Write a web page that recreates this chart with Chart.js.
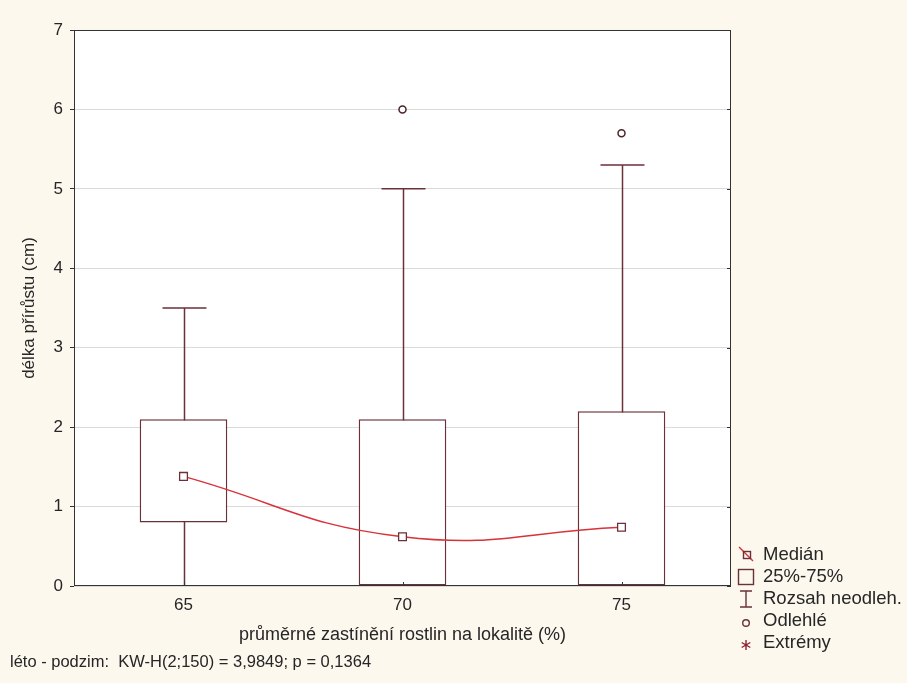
<!DOCTYPE html>
<html>
<head>
<meta charset="utf-8">
<script src="https://cdn.jsdelivr.net/npm/chart.js@4.4.1/dist/chart.umd.min.js"></script>
<style>
    html, body { margin: 0; padding: 0; background: #fcf8ee; }
    #wrap { width: 907px; height: 683px; }
</style>
</head>
<body>
<div id="wrap"><canvas id="chart" width="907" height="683"></canvas></div>
<script>
// values
const categories = ['65', '70', '75'];
const medians = [1.38, 0.62, 0.74];
const q1 = [0.8, 0, 0];
const q3 = [2.1, 2.1, 2.2];
const whiskerLow = [0, 0, 0];
const whiskerHigh = [3.5, 5.0, 5.3];
const outliers = [null, 6.0, 5.7];
const yMin = 0;
const yMax = 7;

const FONT = "'Liberation Sans', Arial, sans-serif";
const DARK = '#6b3138';
const TEXT = '#262626';

const legendItems = ['Medián', '25%-75%', 'Rozsah neodleh.', 'Odlehlé', 'Extrémy'];
const footerText = 'léto - podzim:  KW-H(2;150) = 3,9849; p = 0,1364';

// background, plot area, whiskers, frame, legend and footer
const backgroundPlugin = {
    id: 'background',
    beforeDraw(chart) {
        const ctx = chart.ctx;
        const a = chart.chartArea;
        ctx.save();
        ctx.fillStyle = '#fcf8ee';
        ctx.fillRect(0, 0, chart.width, chart.height);
        ctx.fillStyle = '#ffffff';
        ctx.fillRect(a.left, a.top, a.right - a.left, a.bottom - a.top);
        ctx.restore();
    },
    beforeDatasetsDraw(chart) {
        const ctx = chart.ctx;
        const x = chart.scales.x;
        const y = chart.scales.y;
        ctx.save();
        ctx.strokeStyle = DARK;
        ctx.lineWidth = 1.5;
        categories.forEach((c, i) => {
            const px = Math.round(x.getPixelForValue(i)) + 0.5;
            const top = y.getPixelForValue(whiskerHigh[i]);
            const bot = y.getPixelForValue(whiskerLow[i]);
            ctx.beginPath();
            ctx.moveTo(px, bot);
            ctx.lineTo(px, top);
            ctx.moveTo(px - 22, top);
            ctx.lineTo(px + 22, top);
            ctx.stroke();
        });
        ctx.restore();
    },
    afterDatasetsDraw(chart) {
        const ctx = chart.ctx;
        const a = chart.chartArea;
        const x = chart.scales.x;
        const y = chart.scales.y;
        ctx.save();
        ctx.strokeStyle = '#333';
        ctx.lineWidth = 1;
        ctx.strokeRect(a.left + 0.5, a.top + 0.5, a.right - a.left - 1, a.bottom - a.top - 1);
        ctx.beginPath();
        categories.forEach((c, i) => {
            const px = Math.round(x.getPixelForValue(i)) + 0.5;
            ctx.moveTo(px, a.bottom);
            ctx.lineTo(px, a.bottom - 4);
        });
        for (let v = yMin; v <= yMax; v++) {
            const py = Math.round(y.getPixelForValue(v)) + 0.5;
            ctx.moveTo(a.right, py);
            ctx.lineTo(a.right - 4, py);
        }
        ctx.stroke();
        ctx.restore();
    },
    afterDraw(chart) {
        const ctx = chart.ctx;
        ctx.save();
        ctx.fillStyle = TEXT;
        ctx.textBaseline = 'middle';
        ctx.textAlign = 'left';
        ctx.font = '16.5px ' + FONT;
        ctx.fillText(footerText, 10, 662);

        // legend
        const sx = 746;
        const tx = 763;
        const ys = [555, 577, 599, 621, 643];
        ctx.font = '18.5px ' + FONT;
        legendItems.forEach((t, i) => ctx.fillText(t, tx, ys[i]));

        ctx.lineWidth = 1.4;
        // median
        ctx.beginPath();
        ctx.strokeStyle = '#d8323a';
        ctx.moveTo(sx - 7, ys[0] - 8);
        ctx.lineTo(sx + 7, ys[0] + 6);
        ctx.stroke();
        ctx.strokeStyle = DARK;
        ctx.strokeRect(sx - 2.5, ys[0] - 3.5, 7, 7);
        // box
        ctx.strokeRect(sx - 7.5, ys[1] - 7.5, 15, 15);
        // whisker
        ctx.beginPath();
        ctx.moveTo(sx, ys[2] - 8);
        ctx.lineTo(sx, ys[2] + 8);
        ctx.moveTo(sx - 6, ys[2] - 8);
        ctx.lineTo(sx + 6, ys[2] - 8);
        ctx.moveTo(sx - 6, ys[2] + 8);
        ctx.lineTo(sx + 6, ys[2] + 8);
        ctx.stroke();
        // outlier
        ctx.beginPath();
        ctx.arc(sx, ys[3] + 2, 3.3, 0, Math.PI * 2);
        ctx.stroke();
        // extreme
        ctx.strokeStyle = '#8a2330';
        ctx.beginPath();
        for (let k = 0; k < 3; k++) {
            const ang = Math.PI / 2 + k * Math.PI / 3;
            ctx.moveTo(sx + 5 * Math.cos(ang), ys[4] + 2 + 5 * Math.sin(ang));
            ctx.lineTo(sx - 5 * Math.cos(ang), ys[4] + 2 - 5 * Math.sin(ang));
        }
        ctx.stroke();
        ctx.restore();
    }
};

new Chart(document.getElementById('chart'), {
    data: {
        labels: categories,
        datasets: [
            {
                type: 'line',
                label: 'Medián',
                data: medians,
                borderColor: '#d8323a',
                borderWidth: 1.5,
                tension: 0.45,
                pointStyle: 'rect',
                pointRadius: 5.5,
                pointBackgroundColor: '#ffffff',
                pointBorderColor: DARK,
                pointBorderWidth: 1.3,
                order: 0
            },
            {
                type: 'line',
                label: 'Odlehlé',
                data: outliers,
                showLine: false,
                pointStyle: 'circle',
                pointRadius: 3.5,
                pointBackgroundColor: '#ffffff',
                pointBorderColor: '#4e2226',
                pointBorderWidth: 1.5,
                order: 1
            },
            {
                type: 'bar',
                label: '25%-75%',
                data: q1.map((v, i) => [v, q3[i]]),
                backgroundColor: '#ffffff',
                borderColor: DARK,
                borderWidth: 1.5,
                borderSkipped: false,
                barPercentage: 0.4,
                categoryPercentage: 1,
                order: 2
            }
        ]
    },
    options: {
        responsive: false,
        animation: false,
        devicePixelRatio: 1,
        layout: { padding: { top: 30, right: 176, bottom: 0, left: 0 } },
        plugins: {
            legend: { display: false },
            tooltip: { enabled: false }
        },
        scales: {
            x: {
                type: 'category',
                offset: true,
                grid: { display: false, drawTicks: false },
                border: { display: false },
                ticks: { padding: 9, color: TEXT, font: { family: FONT, size: 17 } },
                title: {
                    display: true,
                    text: 'průměrné zastínění rostlin na lokalitě (%)',
                    color: TEXT,
                    font: { family: FONT, size: 18 },
                    padding: { top: 0, bottom: 37 }
                },
                afterFit(scale) { scale.height = 97; }
            },
            y: {
                min: yMin,
                max: yMax,
                ticks: { stepSize: 1, padding: 7, color: TEXT, font: { family: FONT, size: 17 } },
                grid: { color: '#dadada', tickLength: 4, tickColor: '#333' },
                border: { display: false },
                title: {
                    display: true,
                    text: 'délka přírůstu (cm)',
                    color: TEXT,
                    font: { family: FONT, size: 17 },
                    padding: { top: 19, bottom: 0 }
                },
                afterFit(scale) { scale.width = 74; }
            }
        }
    },
    plugins: [backgroundPlugin]
});
</script>
</body>
</html>
